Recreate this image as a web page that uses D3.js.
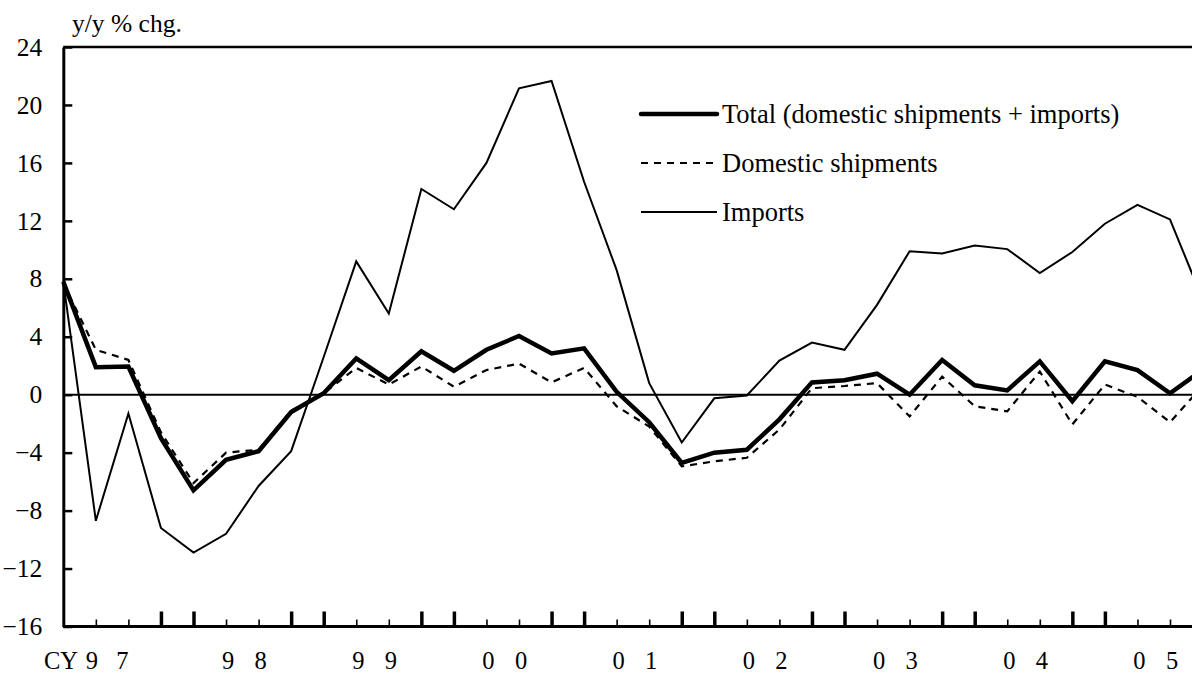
<!DOCTYPE html>
<html>
<head>
<meta charset="utf-8">
<script src="https://cdn.jsdelivr.net/npm/d3@7/dist/d3.min.js"></script>
<style>
  body { margin: 0; background: #fff; }
  svg { display: block; font-family: "Times New Roman", "Liberation Serif", serif; }
</style>
</head>
<body>
<div id="chart"></div>
<script>
// quarters 1997Q1 .. 2005Q4
const years = ["97", "98", "99", "00", "01", "02", "03", "04", "05"];
const quarters = [];
years.forEach(yr => [1, 2, 3, 4].forEach(q => quarters.push(yr + "Q" + q)));

const total = [7.8, 1.9, 1.95, -3.0, -6.6, -4.5, -3.9, -1.2, 0.1, 2.5, 1.0, 3.0,
  1.65, 3.1, 4.05, 2.85, 3.2, 0.2, -1.9, -4.7, -4.0, -3.8, -1.7, 0.85,
  1.0, 1.45, 0.0, 2.4, 0.65, 0.3, 2.3, -0.45, 2.3, 1.7, 0.1, 1.7];
const domestic = [7.7, 3.1, 2.4, -2.6, -6.1, -4.0, -3.8, -1.1, 0.1, 1.85, 0.7, 1.95,
  0.55, 1.7, 2.15, 0.85, 1.85, -0.8, -2.2, -4.95, -4.6, -4.35, -2.4, 0.45,
  0.6, 0.8, -1.5, 1.25, -0.8, -1.15, 1.6, -2.05, 0.7, -0.15, -1.9, 0.6];
const imports = [7.8, -8.7, -1.3, -9.2, -10.9, -9.6, -6.3, -3.9, 2.6, 9.2, 5.6, 14.2,
  12.8, 16.0, 21.15, 21.65, 14.7, 8.6, 0.8, -3.3, -0.25, -0.05, 2.35, 3.6,
  3.1, 6.2, 9.9, 9.75, 10.3, 10.05, 8.4, 9.85, 11.8, 13.1, 12.1, 6.6];

const yTicks = [-16, -12, -8, -4, 0, 4, 8, 12, 16, 20, 24];
const seriesNames = ["Total (domestic shipments + imports)", "Domestic shipments", "Imports"];

const width = 1192, height = 677;
const left = 63.3, step = 32.55;
const serif = "'Times New Roman', 'Liberation Serif', serif";

const svg = d3.select("#chart").append("svg")
    .attr("width", width)
    .attr("height", height);

const x = d3.scaleLinear()
    .domain([0, quarters.length - 1])
    .range([left, left + step * (quarters.length - 1)]);

const y = d3.scaleLinear()
    .domain([-16, 24])
    .range([626.5, 47]);

// y axis, ticks pointing inward
const yAxis = svg.append("g")
    .attr("transform", `translate(${left}, 0)`)
    .call(d3.axisLeft(y).tickValues(yTicks).tickSize(-9).tickSizeOuter(0).tickPadding(21))
    .attr("font-family", serif)
    .attr("font-size", 25.5);
yAxis.select(".domain").attr("stroke-width", 3);
yAxis.selectAll(".tick line").attr("stroke-width", 2.5);
yAxis.selectAll(".tick text").attr("fill", "#000");

// top frame
svg.append("line")
    .attr("x1", left).attr("x2", width + 20)
    .attr("y1", y(24)).attr("y2", y(24))
    .attr("stroke", "#000").attr("stroke-width", 2.5);

// x axis with quarter ticks, long ones around each year boundary
const xAxis = svg.append("g")
    .attr("transform", `translate(0, ${y(-16)})`)
    .call(d3.axisBottom(x).tickValues(d3.range(1, quarters.length)).tickSizeOuter(0).tickFormat(""));
xAxis.select(".domain").attr("d", `M${left},0H${width + 20}`).attr("stroke-width", 3);
xAxis.selectAll(".tick line")
    .attr("y2", d => (d % 4 === 0 || d % 4 === 3) ? -15 : -7)
    .attr("stroke-width", d => (d % 4 === 0 || d % 4 === 3) ? 3.5 : 1.6);

// year labels: digits sit under the 2nd and 3rd quarter
const labels = svg.append("g")
    .attr("font-family", serif)
    .attr("font-size", 24.5)
    .attr("text-anchor", "middle");
years.forEach((yr, k) => {
    const shift = k === 0 ? -4 : 2;
    labels.append("text")
        .attr("x", x(k * 4 + 1) + shift).attr("y", 669)
        .text(yr[0]);
    labels.append("text")
        .attr("x", x(k * 4 + 2) + shift - (k === 0 ? 2 : 0)).attr("y", 669)
        .text(yr[1]);
});
labels.append("text")
    .attr("x", 78).attr("y", 669)
    .attr("text-anchor", "end")
    .text("CY");

// y unit
svg.append("text")
    .attr("x", 72).attr("y", 32)
    .attr("font-family", serif)
    .attr("font-size", 25.5)
    .text("y/y % chg.");

// zero line
svg.append("line")
    .attr("x1", left).attr("x2", width + 20)
    .attr("y1", y(0)).attr("y2", y(0))
    .attr("stroke", "#000").attr("stroke-width", 2);

const line = d3.line()
    .x((d, i) => x(i))
    .y(d => y(d));

svg.append("path")
    .datum(domestic)
    .attr("d", line)
    .attr("fill", "none")
    .attr("stroke", "#000")
    .attr("stroke-width", 2.2)
    .attr("stroke-dasharray", "7,6");

svg.append("path")
    .datum(imports)
    .attr("d", line)
    .attr("fill", "none")
    .attr("stroke", "#000")
    .attr("stroke-width", 2);

svg.append("path")
    .datum(total)
    .attr("d", line)
    .attr("fill", "none")
    .attr("stroke", "#000")
    .attr("stroke-width", 4.5);

// legend
const legendStyles = [
    { w: 4.5, dash: null },
    { w: 2.2, dash: "7,6" },
    { w: 2, dash: null }
];
const legend = svg.append("g")
    .attr("font-family", serif)
    .attr("font-size", 26.5);
seriesNames.forEach((name, i) => {
    const ly = 114 + i * 49;
    legend.append("line")
        .attr("x1", 641).attr("x2", 717)
        .attr("y1", ly).attr("y2", ly)
        .attr("stroke", "#000")
        .attr("stroke-width", legendStyles[i].w)
        .attr("stroke-linecap", i === 0 ? "round" : "butt")
        .attr("stroke-dasharray", legendStyles[i].dash);
    legend.append("text")
        .attr("x", 722).attr("y", ly)
        .attr("dy", "0.35em")
        .text(name);
});
</script>
</body>
</html>
